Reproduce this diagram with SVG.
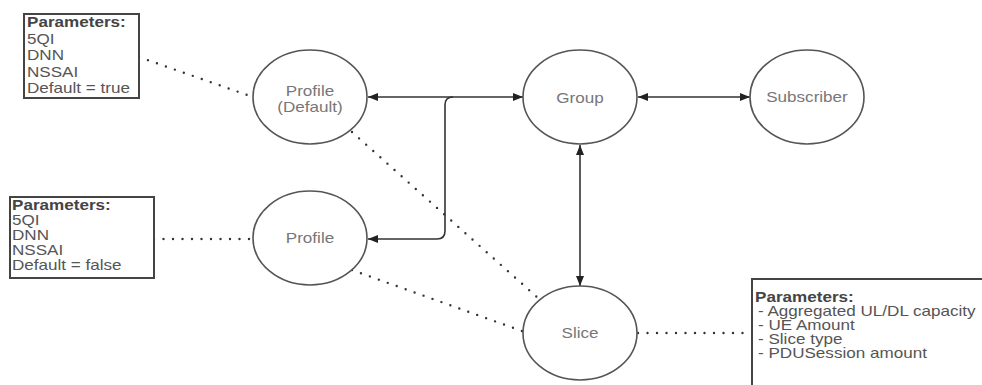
<svg xmlns="http://www.w3.org/2000/svg" width="982" height="385" viewBox="0 0 982 385">
  <defs>
    <marker id="arrow" viewBox="0 0 10 8" refX="10" refY="4" markerWidth="11" markerHeight="8" markerUnits="userSpaceOnUse" orient="auto-start-reverse">
      <path d="M0,0 L10,4 L0,8 z" fill="#222"/>
    </marker>
    <style>
      text { font-family: "Liberation Sans", Arial, sans-serif; font-size: 14px; }
      .node ellipse { fill: #fff; stroke: #555; stroke-width: 1.6; }
      .node text { fill: #777; text-anchor: middle; }
      .params rect { fill: #fff; stroke: #444; stroke-width: 2; }
      .params text { fill: #555; }
      .params .title { font-weight: bold; fill: #444; }
      .link { fill: none; stroke: #333; stroke-width: 1.6; }
      .dots { fill: none; stroke: #333; stroke-width: 2.4; stroke-linecap: round; stroke-dasharray: 0 9.5; }
    </style>
  </defs>
  <rect width="982" height="385" fill="#fff"/>

  <!-- connectors -->
  <g id="connectors">
    <line class="link" x1="368" y1="97" x2="523" y2="97" marker-start="url(#arrow)" marker-end="url(#arrow)"/>
    <path class="link" d="M453 97 Q445 97 445 105 V231 Q445 239 437 239 H368" marker-end="url(#arrow)"/>
    <line class="link" x1="638" y1="97" x2="750" y2="97" marker-start="url(#arrow)" marker-end="url(#arrow)"/>
    <line class="link" x1="580" y1="145" x2="580" y2="286" marker-start="url(#arrow)" marker-end="url(#arrow)"/>
    <line class="dots" x1="139" y1="57" x2="253" y2="97"/>
    <line class="dots" x1="154" y1="239" x2="253" y2="239"/>
    <line class="dots" x1="352" y1="132" x2="538" y2="298"/>
    <line class="dots" x1="352" y1="270" x2="522" y2="331"/>
    <line class="dots" x1="638" y1="333" x2="752" y2="333"/>
  </g>

  <!-- parameter boxes (text is set slightly wide: scaleX 1.22) -->
  <g id="params-default" class="params">
    <rect x="24" y="14" width="115" height="84"/>
    <text class="title" transform="translate(27,27) scale(1.22,1)">Parameters:</text>
    <text transform="translate(27,43.5) scale(1.22,1)">5QI</text>
    <text transform="translate(27,60) scale(1.22,1)">DNN</text>
    <text transform="translate(27,76.5) scale(1.22,1)">NSSAI</text>
    <text transform="translate(27,93) scale(1.22,1)">Default = true</text>
  </g>
  <g id="params-profile" class="params">
    <rect x="10" y="197" width="144" height="81"/>
    <text class="title" transform="translate(12,210) scale(1.22,1)">Parameters:</text>
    <text transform="translate(12,225) scale(1.22,1)">5QI</text>
    <text transform="translate(12,240) scale(1.22,1)">DNN</text>
    <text transform="translate(12,255) scale(1.22,1)">NSSAI</text>
    <text transform="translate(12,270) scale(1.22,1)">Default = false</text>
  </g>
  <g id="params-slice" class="params">
    <rect x="752" y="279" width="240" height="120"/>
    <text class="title" transform="translate(755,302) scale(1.22,1)">Parameters:</text>
    <text transform="translate(758,316) scale(1.22,1)">- Aggregated UL/DL capacity</text>
    <text transform="translate(758,330) scale(1.22,1)">- UE Amount</text>
    <text transform="translate(758,344) scale(1.22,1)">- Slice type</text>
    <text transform="translate(758,358) scale(1.22,1)">- PDUSession amount</text>
  </g>

  <!-- nodes -->
  <g id="profile-default" class="node">
    <ellipse cx="310" cy="97" rx="57" ry="47"/>
    <text transform="translate(310,96) scale(1.22,1)">Profile</text>
    <text transform="translate(310,112) scale(1.22,1)">(Default)</text>
  </g>
  <g id="profile" class="node">
    <ellipse cx="310" cy="238" rx="57" ry="47"/>
    <text transform="translate(310,243) scale(1.22,1)">Profile</text>
  </g>
  <g id="group" class="node">
    <ellipse cx="580" cy="97" rx="57" ry="47"/>
    <text transform="translate(580,103) scale(1.22,1)">Group</text>
  </g>
  <g id="subscriber" class="node">
    <ellipse cx="807" cy="97" rx="57" ry="47"/>
    <text transform="translate(807,102) scale(1.22,1)">Subscriber</text>
  </g>
  <g id="slice" class="node">
    <ellipse cx="580" cy="333" rx="57" ry="47"/>
    <text transform="translate(580,338) scale(1.22,1)">Slice</text>
  </g>
</svg>
